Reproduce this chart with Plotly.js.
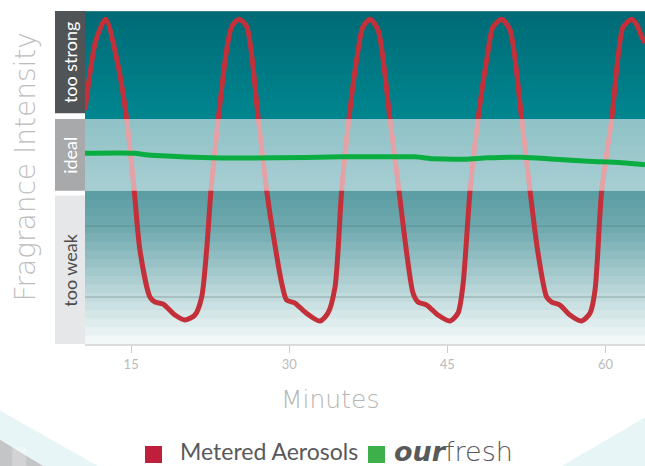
<!DOCTYPE html>
<html><head><meta charset="utf-8">
<script src="https://cdn.plot.ly/plotly-3.0.1.min.js"></script>
<style>html,body{margin:0;padding:0;background:#fff}#chart{width:645px;height:466px}</style>
</head><body><div id="chart"></div>
<script>
// ---- data ----
const minutesRange = [10.62, 63.75];
const tickValues = [15, 30, 45, 60];
const tickLabels = ['15', '30', '45', '60'];

const aerosolMinutes = [10.62, 11.66, 12.58, 13.78, 14.57, 15.29, 15.83, 16.78, 17.26, 18.02, 19.16, 20.10, 21.05, 21.69, 22.16, 22.57, 23.26, 24.06, 24.54, 25.23, 25.96, 27.06, 27.86, 28.64, 29.28, 29.75, 30.54, 31.49, 32.91, 33.67, 34.34, 34.97, 35.66, 36.39, 36.99, 37.66, 38.42, 39.55, 40.41, 41.14, 41.74, 42.21, 43.04, 44.11, 45.25, 46.01, 46.48, 47.15, 47.91, 48.73, 49.33, 50.15, 50.94, 52.05, 52.84, 53.60, 54.42, 54.90, 55.68, 56.63, 57.74, 58.54, 59.01, 59.64, 60.59, 61.19, 61.67, 62.49, 62.97, 63.44, 63.75];
const aerosolIntensity = [70.3, 91.3, 97.5, 83.3, 67.6, 46.0, 28.2, 14.1, 12.6, 12.0, 8.7, 7.2, 8.7, 14.1, 28.2, 46.0, 67.6, 88.3, 95.3, 97.5, 95.3, 67.6, 46.0, 29.7, 18.3, 13.2, 12.3, 9.6, 6.9, 9.3, 17.1, 46.0, 67.6, 85.3, 95.2, 97.5, 94.3, 67.6, 46.0, 27.3, 15.3, 12.6, 11.7, 8.7, 6.9, 9.3, 17.7, 46.0, 67.6, 85.3, 95.2, 97.5, 94.3, 67.6, 46.0, 27.3, 14.1, 12.6, 11.7, 8.7, 6.9, 9.3, 16.2, 46.0, 67.6, 86.2, 95.2, 97.5, 95.8, 92.3, 90.4];

const ourfreshMinutes = [10.62, 15.36, 16.0, 17.9, 22.64, 28.64, 34.97, 38.13, 41.93, 43.83, 46.67, 48.85, 52.05, 55.21, 58.34, 61.54, 63.75];
const ourfreshIntensity = [57.3, 57.3, 57.0, 56.5, 55.9, 55.9, 56.2, 56.2, 56.2, 55.6, 55.5, 55.9, 56.1, 55.5, 54.9, 54.4, 53.8];

const bandLabels = ['too weak', 'ideal', 'too strong'];
const bandLow = [0, 46, 67.6];
const bandHigh = [46, 67.6, 100];
const gridLevels = [14.1, 35.4];

const seriesNames = ['Metered Aerosols', '<b><i>our</i></b>fresh'];

// ---- styling helpers ----
function hex2rgb(h){h=h.replace('#','');return [0,2,4].map(i=>parseInt(h.substr(i,2),16));}
function interpStops(stops, f){
  for(let i=0;i<stops.length-1;i++){
    const [f0,c0]=stops[i],[f1,c1]=stops[i+1];
    if(f>=f0 && f<=f1){
      const t=(f-f0)/(f1-f0||1);
      const a=hex2rgb(c0),b=hex2rgb(c1);
      const c=a.map((v,k)=>Math.round(v+(b[k]-v)*t));
      return 'rgb('+c.join(',')+')';
    }
  }
  return stops[stops.length-1][1];
}
const bandStops = [
  [[0,'#f7fafa'],[0.3,'#c2dbdd'],[0.75,'#70aaaf'],[1,'#5a9ca3']],
  [[0,'#3e959e'],[1,'#077681']],
  [[0,'#00868f'],[1,'#006a76']]
];
const bandSteps = [18, 8, 12];

const shapes = [];
bandLow.forEach((lo,b)=>{
  const hi=bandHigh[b], n=bandSteps[b];
  for(let i=0;i<n;i++){
    const y0=lo+(hi-lo)*i/n, y1=lo+(hi-lo)*(i+1)/n;
    const top = (i===n-1) ? y1 : y1 + (hi-lo)/n*0.5;
    shapes.push({type:'rect',layer:'below',xref:'paper',yref:'y',x0:0,x1:1,y0:y0,y1:top,
      fillcolor:interpStops(bandStops[b],(i+0.5)/n),line:{width:0}});
  }
});
gridLevels.forEach(g=>shapes.push({type:'line',layer:'below',xref:'paper',yref:'y',x0:0,x1:1,y0:g,y1:g,
  line:{color:'rgba(70,100,105,0.28)',width:1.5}}));
shapes.push({type:'line',layer:'below',xref:'paper',yref:'y',x0:0,x1:1,y0:100,y1:100,line:{color:'#5f8f95',width:1}});

// label boxes on the left
const boxColors = ['#e6e7e8', '#a7a9ab', '#515457'];
const boxText = ['#4d4d4f', '#ffffff', '#ffffff'];
const boxY = [[bandLow[0], bandHigh[0]-1.4],[bandLow[1], bandHigh[1]],[bandLow[2]+1.7, bandHigh[2]]];
const annotations = [];
boxY.forEach((r,i)=>{
  shapes.push({type:'rect',xref:'paper',yref:'y',x0:-0.0536,x1:0,y0:r[0],y1:r[1],fillcolor:boxColors[i],line:{width:0}});
  annotations.push({xref:'paper',yref:'y',x:-0.0268,y:(r[0]+r[1])/2,xanchor:'center',yanchor:'middle',
    text:bandLabels[i],textangle:-90,showarrow:false,
    font:{family:'Lato, "Open Sans", sans-serif',size:18,color:boxText[i]}});
});

// decorative triangles at the bottom
shapes.push({type:'path',xref:'paper',yref:'paper',path:'M -0.16 -0.192 L 0.0268 -0.37 L -0.16 -0.37 Z',fillcolor:'#e8f5f7',line:{width:0}});
shapes.push({type:'path',xref:'paper',yref:'paper',path:'M -0.16 -0.279 L -0.0714 -0.37 L -0.16 -0.37 Z',fillcolor:'#c4c5c7',line:{width:0}});
shapes.push({type:'path',xref:'paper',yref:'paper',path:'M -0.13 -0.31 L -0.105 -0.31 L -0.105 -0.37 L -0.13 -0.37 Z',fillcolor:'rgba(255,255,255,0.25)',line:{width:0}});
shapes.push({type:'path',xref:'paper',yref:'paper',path:'M 1.01 -0.21 L 0.848 -0.37 L 1.01 -0.37 Z',fillcolor:'#e8f5f7',line:{width:0}});

// legend squares and texts
const legendColors = ['#c01f3b', '#3eb04a'];
const legendSquareX = [[0.1071,0.1375],[0.5054,0.5357]];
const legendTextX = [0.1661, 0.548];
const legendFonts = [
  {family:'Lato, "Open Sans", sans-serif',size:23,color:'#58595b'},
  {family:'"DejaVu Sans", sans-serif',size:27,color:'#58595b',weight:300}
];
legendColors.forEach((c,i)=>{
  shapes.push({type:'rect',xref:'paper',yref:'paper',x0:legendSquareX[i][0],x1:legendSquareX[i][1],y0:-0.3574,y1:-0.3063,fillcolor:c,line:{width:0}});
  annotations.push({xref:'paper',yref:'paper',x:legendTextX[i],xanchor:'left',y:-0.322,yanchor:'middle',text:seriesNames[i],
    showarrow:false,font:legendFonts[i]});
});

// axis titles
annotations.push({xref:'paper',yref:'paper',x:0.4375,y:-0.168,xanchor:'center',yanchor:'middle',text:'Minutes',showarrow:false,
  font:{family:'"DejaVu Sans", sans-serif',size:25,color:'#b5b5b5',weight:200}});
annotations.push({xref:'paper',yref:'paper',x:-0.1071,y:0.53,xanchor:'center',yanchor:'middle',text:'Fragrance Intensity',
  textangle:-90,showarrow:false,
  font:{family:'"DejaVu Sans", sans-serif',size:28,color:'#bdbdbd',weight:200}});

const traces = [
  {x:aerosolMinutes, y:aerosolIntensity, type:'scatter', mode:'lines', name:'Metered Aerosols',
   line:{color:'#c3303a', width:5, shape:'spline', smoothing:0.7}, hoverinfo:'x+y', showlegend:false},
  {x:[minutesRange[0],minutesRange[1],minutesRange[1],minutesRange[0],minutesRange[0]],
   y:[bandLow[1],bandLow[1],bandHigh[1],bandHigh[1],bandLow[1]], type:'scatter', mode:'lines', fill:'toself',
   fillcolor:'rgba(255,255,255,0.55)', line:{width:0}, hoverinfo:'skip', showlegend:false},
  {x:ourfreshMinutes, y:ourfreshIntensity, type:'scatter', mode:'lines', name:'ourfresh',
   line:{color:'#0aad42', width:5, shape:'spline', smoothing:0.8}, hoverinfo:'x+y', showlegend:false}
];

const layout = {
  width:645, height:466,
  margin:{l:85, r:0, t:11, b:122},
  paper_bgcolor:'#ffffff', plot_bgcolor:'#ffffff',
  showlegend:false,
  xaxis:{range:minutesRange, tickvals:tickValues, ticktext:tickLabels, ticks:'outside', ticklen:7, tickwidth:1,
    tickcolor:'#cccccc', showline:true, linecolor:'#dcdcdc', linewidth:2, showgrid:false, zeroline:false,
    tickfont:{family:'Lato, "Open Sans", sans-serif', size:13, color:'#bbbbbb'}, fixedrange:true},
  yaxis:{range:[0,100], showticklabels:false, showgrid:false, zeroline:false, showline:false, ticks:'', fixedrange:true},
  shapes:shapes,
  annotations:annotations
};

Plotly.newPlot('chart', traces, layout, {displayModeBar:false, staticPlot:true});
</script>
</body></html>
